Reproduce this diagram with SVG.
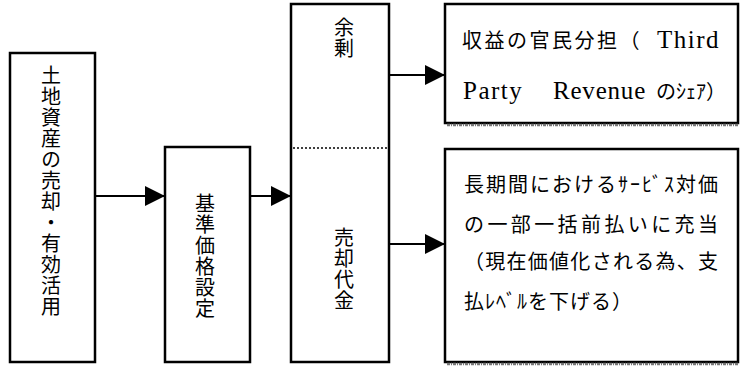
<svg xmlns="http://www.w3.org/2000/svg" width="742" height="369" viewBox="0 0 742 369">
<style>
.box{fill:#fff;stroke:#000;stroke-width:2.5}
.jp{font-family:"Noto Sans CJK JP","Noto Sans",sans-serif;fill:#000}
.vt{writing-mode:vertical-rl;font-size:20px;letter-spacing:1px}
.ser{font-family:"Liberation Serif","Noto Sans CJK JP",serif;font-size:25px;letter-spacing:1.5px}
.conn{stroke:#000;stroke-width:2;fill:none;marker-end:url(#ah)}
.shadow{stroke:#777;stroke-width:2.5;stroke-dasharray:3 1 1 1}
</style>
<defs>
<marker id="ah" markerUnits="userSpaceOnUse" markerWidth="20" markerHeight="20" refX="20" refY="10" orient="auto">
<path d="M0,0 L20,10 L0,20 z" fill="#000"/>
</marker>
</defs>
<rect width="742" height="369" fill="#fff"/>
<g id="node-land">
<rect class="box" x="10" y="53" width="85" height="309"/>
<text class="jp vt" x="51" y="65">土地資産の売却・有効活用</text>
</g>
<g id="node-price">
<rect class="box" x="165" y="147" width="85" height="215"/>
<text class="jp vt" x="205" y="193">基準価格設定</text>
</g>
<g id="node-proceeds">
<rect class="box" x="291" y="4" width="98" height="358"/>
<line x1="293" y1="148" x2="388" y2="148" stroke="#000" stroke-width="1.5" stroke-dasharray="2 2"/>
<text class="jp vt" x="344" y="17">余剰</text>
<text class="jp vt" x="344" y="227">売却代金</text>
</g>
<g id="node-share">
<rect class="box" x="445" y="4" width="293" height="119"/>
<line class="shadow" x1="447" y1="125" x2="738" y2="125"/>
<text class="jp" x="462" y="48" font-size="20" letter-spacing="2.5">収益の官民分担（<tspan class="ser" x="657" letter-spacing="1">Third</tspan></text>
<text class="ser" x="463" y="99"><tspan>Party</tspan> <tspan x="553" letter-spacing="0.8">Revenue</tspan> <tspan class="jp" x="656" font-size="20" letter-spacing="0">のｼｪｱ）</tspan></text>
</g>
<g id="node-service">
<rect class="box" x="445" y="149" width="293" height="213"/>
<line class="shadow" x1="447" y1="364" x2="738" y2="364"/>
<text class="jp" font-size="20">
<tspan x="464" y="192" textLength="254" lengthAdjust="spacing">長期間におけるｻｰﾋﾞｽ対価</tspan>
<tspan x="464" y="232" textLength="254" lengthAdjust="spacing">の一部一括前払いに充当</tspan>
<tspan x="464" y="269" textLength="254" lengthAdjust="spacing">（現在価値化される為、支</tspan>
<tspan x="464" y="309" textLength="168" lengthAdjust="spacing">払ﾚﾍﾞﾙを下げる）</tspan>
</text>
</g>
<g id="connectors">
<line class="conn" x1="96" y1="196" x2="165" y2="196"/>
<line class="conn" x1="251" y1="196" x2="291" y2="196"/>
<line class="conn" x1="390" y1="75" x2="445" y2="75"/>
<line class="conn" x1="390" y1="244" x2="445" y2="244"/>
</g>
</svg>
